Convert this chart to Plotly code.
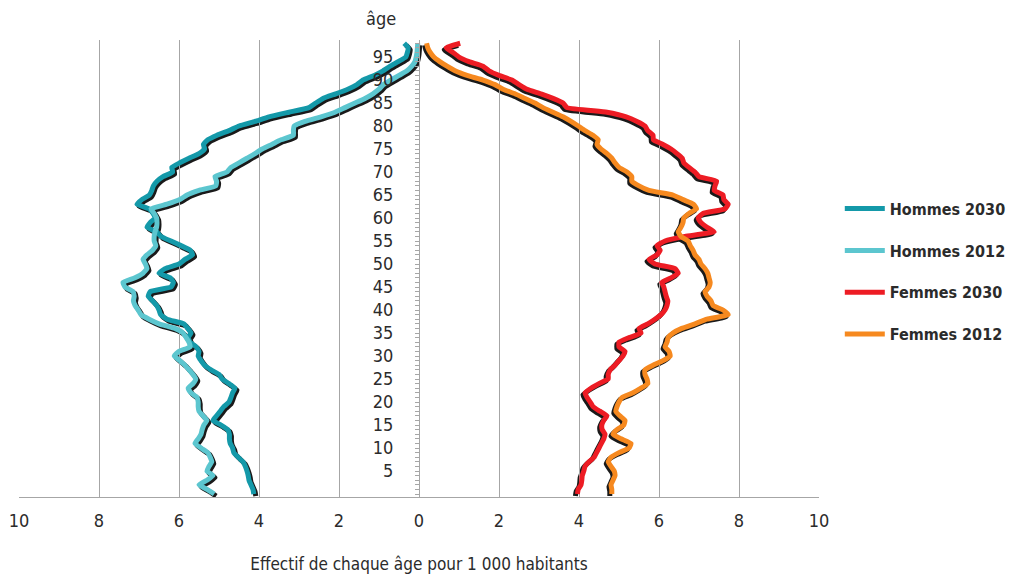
import plotly.graph_objects as go

# ---------------- data ----------------
ages = list(range(0, 99))

hommes_2030 = [
    4.13, 4.15, 4.20, 4.25, 4.27, 4.30, 4.34, 4.40, 4.52, 4.63,
    4.66, 4.72, 4.74, 4.74, 4.78, 4.95, 5.15, 5.06, 4.97, 4.88,
    4.75, 4.70, 4.66, 4.60, 4.75, 4.92, 5.00, 5.20, 5.36, 5.45,
    5.52, 5.50, 5.57, 5.72, 5.77, 5.70, 5.78, 5.88, 6.30, 6.46,
    6.50, 6.56, 6.66, 6.77, 6.72, 6.20, 6.14, 6.22, 6.50, 6.35,
    6.00, 5.85, 5.66, 5.72, 5.95, 6.20, 6.45, 6.56, 6.80, 6.72,
    6.60, 6.65, 6.75, 7.05, 6.93, 6.74, 6.68, 6.64, 6.55, 6.40,
    6.16, 6.18, 5.98, 5.75, 5.50, 5.36, 5.39, 5.28, 5.05, 4.75,
    4.50, 4.10, 3.75, 3.25, 2.75, 2.58, 2.40, 2.08, 1.78, 1.55,
    1.40, 1.12, 0.90, 0.72, 0.52, 0.33, 0.29, 0.27, 0.37,
]

hommes_2012 = [
    5.12, 5.30, 5.50, 5.30, 5.15, 5.30, 5.25, 5.18, 5.22, 5.28,
    5.45, 5.60, 5.52, 5.45, 5.42, 5.38, 5.30, 5.40, 5.50, 5.52,
    5.52, 5.55, 5.70, 5.77, 5.65, 5.58, 5.65, 5.75, 5.85, 5.98,
    6.12, 6.00, 5.72, 5.75, 5.82, 5.90, 6.10, 6.50, 6.75, 6.95,
    7.02, 7.10, 7.14, 7.12, 7.15, 7.35, 7.40, 7.10, 6.90, 6.80,
    6.84, 6.90, 6.80, 6.66, 6.58, 6.62, 6.62, 6.60, 6.56, 6.55,
    6.56, 6.62, 6.70, 6.30, 5.98, 5.80, 5.50, 5.08, 5.06, 5.10,
    4.80, 4.70, 4.50, 4.30, 4.10, 3.92, 3.68, 3.45, 3.14, 3.14,
    3.12, 2.85, 2.45, 2.10, 1.85, 1.60, 1.35, 1.15, 1.00, 0.89,
    0.70, 0.50, 0.30, 0.18, 0.10, 0.07, 0.05, 0.04, 0.03,
]

femmes_2030 = [
    3.96, 3.98, 4.05, 4.07, 4.08, 4.12, 4.15, 4.25, 4.38, 4.44,
    4.50, 4.56, 4.62, 4.65, 4.58, 4.57, 4.62, 4.70, 4.52, 4.35,
    4.28, 4.20, 4.15, 4.30, 4.50, 4.73, 4.73, 4.78, 4.90, 5.00,
    5.10, 5.15, 5.00, 5.00, 5.25, 5.55, 5.50, 5.72, 5.90, 6.05,
    6.15, 6.20, 6.22, 6.18, 6.15, 6.12, 6.07, 6.30, 6.48, 6.40,
    5.90, 5.75, 5.95, 6.03, 5.95, 6.15, 6.65, 7.38, 7.20, 7.05,
    6.98, 7.10, 7.65, 7.73, 7.62, 7.60, 7.38, 7.40, 7.44, 7.00,
    6.90, 6.75, 6.62, 6.58, 6.45, 6.30, 6.10, 5.86, 5.85, 5.72,
    5.65, 5.45, 5.18, 4.70, 3.70, 3.60, 3.35, 3.05, 2.70, 2.50,
    2.32, 2.00, 1.75, 1.60, 1.25, 1.00, 0.85, 0.68, 1.03,
]

femmes_2012 = [
    4.82, 4.82, 4.80, 4.85, 4.90, 4.88, 4.80, 4.73, 4.80, 5.00,
    5.25, 5.30, 5.05, 4.85, 4.95, 5.12, 5.15, 5.02, 4.92, 4.95,
    5.00, 5.08, 5.35, 5.55, 5.72, 5.70, 5.65, 5.65, 5.85, 6.10,
    6.28, 6.25, 6.15, 6.20, 6.23, 6.35, 6.57, 6.90, 7.20, 7.73,
    7.60, 7.35, 7.30, 7.20, 7.15, 7.25, 7.28, 7.25, 7.22, 7.15,
    7.05, 7.00, 6.90, 6.85, 6.78, 6.73, 6.55, 6.48, 6.55, 6.60,
    6.62, 6.75, 6.94, 6.86, 6.60, 6.35, 5.75, 5.50, 5.32, 5.32,
    5.20, 5.00, 4.90, 4.82, 4.70, 4.55, 4.45, 4.48, 4.35, 4.15,
    3.98, 3.80, 3.60, 3.35, 3.10, 2.90, 2.65, 2.40, 2.10, 1.90,
    1.60, 1.20, 0.90, 0.70, 0.52, 0.37, 0.28, 0.22, 0.19,
]

series_names = ["Hommes 2030", "Hommes 2012", "Femmes 2030", "Femmes 2012"]
x_ticks = [-10, -8, -6, -4, -2, 0, 2, 4, 6, 8, 10]
x_ticktext = ["10", "8", "6", "4", "2", "0", "2", "4", "6", "8", "10"]
age_ticks = [5, 10, 15, 20, 25, 30, 35, 40, 45, 50, 55, 60, 65, 70, 75, 80, 85, 90, 95]

# ---------------- styling ----------------
colors = {
    "Hommes 2030": "#1499a9",
    "Hommes 2012": "#5cc6cf",
    "Femmes 2030": "#ed1c24",
    "Femmes 2012": "#f6891f",
}
SHADOW = "#1a1a1a"
LW = 5
FONT = "Liberation Sans Narrow, Arial Narrow, DejaVu Sans Condensed, sans-serif"
TXT = "#2b2b2b"
GRID = "#a6a6a6"

W, H = 1014, 574
ML, MR, MT, MB = 19, 195, 40, 77
PW = W - ML - MR          # plot width in px
PH = H - MT - MB          # plot height in px
XR = (-10.0, 10.0)
YR = (-0.65, 98.7)
ppx = PW / (XR[1] - XR[0])
ppy = PH / (YR[1] - YR[0])
DX, DY = 2.0, 2.0         # shadow offset in px

data_series = {
    "Hommes 2030": [-v for v in hommes_2030],
    "Hommes 2012": [-v for v in hommes_2012],
    "Femmes 2030": femmes_2030,
    "Femmes 2012": femmes_2012,
}

fig = go.Figure()

# shadows (drawn first, on shifted hidden axes)
for name in series_names:
    men = name.startswith("Hommes")
    fig.add_trace(go.Scatter(
        x=data_series[name], y=ages, mode="lines",
        line=dict(color=SHADOW, width=LW, shape="spline", smoothing=0.4),
        xaxis="x" if men else "x2", yaxis="y",
        showlegend=False, hoverinfo="skip",
    ))

# visible coloured lines
for name in series_names:
    fig.add_trace(go.Scatter(
        x=data_series[name], y=ages, mode="lines", name=name,
        line=dict(color=colors[name], width=LW, shape="spline", smoothing=0.4),
        xaxis="x3", yaxis="y2", legendgroup=name,
    ))

sx = DX / PW
sy = DY / PH
fig.update_layout(
    width=W, height=H,
    margin=dict(l=ML, r=MR, t=MT, b=MB, autoexpand=False),
    paper_bgcolor="white", plot_bgcolor="rgba(0,0,0,0)",
    font=dict(family=FONT, color=TXT, size=18),
    # shadow axes
    xaxis=dict(domain=[sx, 1], range=[XR[0], XR[1] - DX / ppx], visible=False,
               anchor="y", fixedrange=True, automargin=False),
    xaxis2=dict(domain=[0, 1 - sx], range=[XR[0] + DX / ppx, XR[1]], visible=False,
                anchor="y", fixedrange=True, automargin=False),
    yaxis=dict(domain=[0, 1 - sy], range=[YR[0] + DY / ppy, YR[1]], visible=False,
               anchor="x", fixedrange=True, automargin=False),
    # visible axes
    xaxis3=dict(domain=[0, 1], range=list(XR), anchor="y2", automargin=False,
                tickvals=x_ticks, ticktext=x_ticktext,
                showgrid=True, gridcolor=GRID, gridwidth=1,
                zeroline=False, showline=True, linecolor=GRID, linewidth=1,
                ticks="", ticklabelstandoff=7,
                tickfont=dict(size=18, color=TXT),
                title=dict(text="Effectif de chaque âge pour 1 000 habitants",
                           font=dict(size=17, color=TXT), standoff=28)),
    yaxis2=dict(domain=[0, 1], range=list(YR), anchor="free", position=0.5,
                automargin=False,
                tickvals=age_ticks, showgrid=False, zeroline=False,
                showline=True, linecolor=GRID, linewidth=1,
                ticks="outside", ticklen=4, tickcolor=GRID,
                minor=dict(dtick=1, ticks="outside", ticklen=4, tickcolor=GRID),
                ticklabelstandoff=18,
                tickfont=dict(size=18, color=TXT)),
    legend=dict(x=1.026, xanchor="left", y=0.668, yanchor="top",
                traceorder="grouped", tracegroupgap=18, itemwidth=40,
                font=dict(size=16, color=TXT, family=FONT, weight="bold"),
                bgcolor="rgba(0,0,0,0)"),
    annotations=[dict(text="âge", x=0.4525, y=(PH + 22) / PH, xref="paper", yref="paper",
                      yanchor="middle", showarrow=False, font=dict(size=18, color=TXT))],
)

fig.write_html(
    "out.html",
    config={"displayModeBar": False},
    post_script="document.body.style.margin='0';document.body.style.overflow='hidden';",
)
